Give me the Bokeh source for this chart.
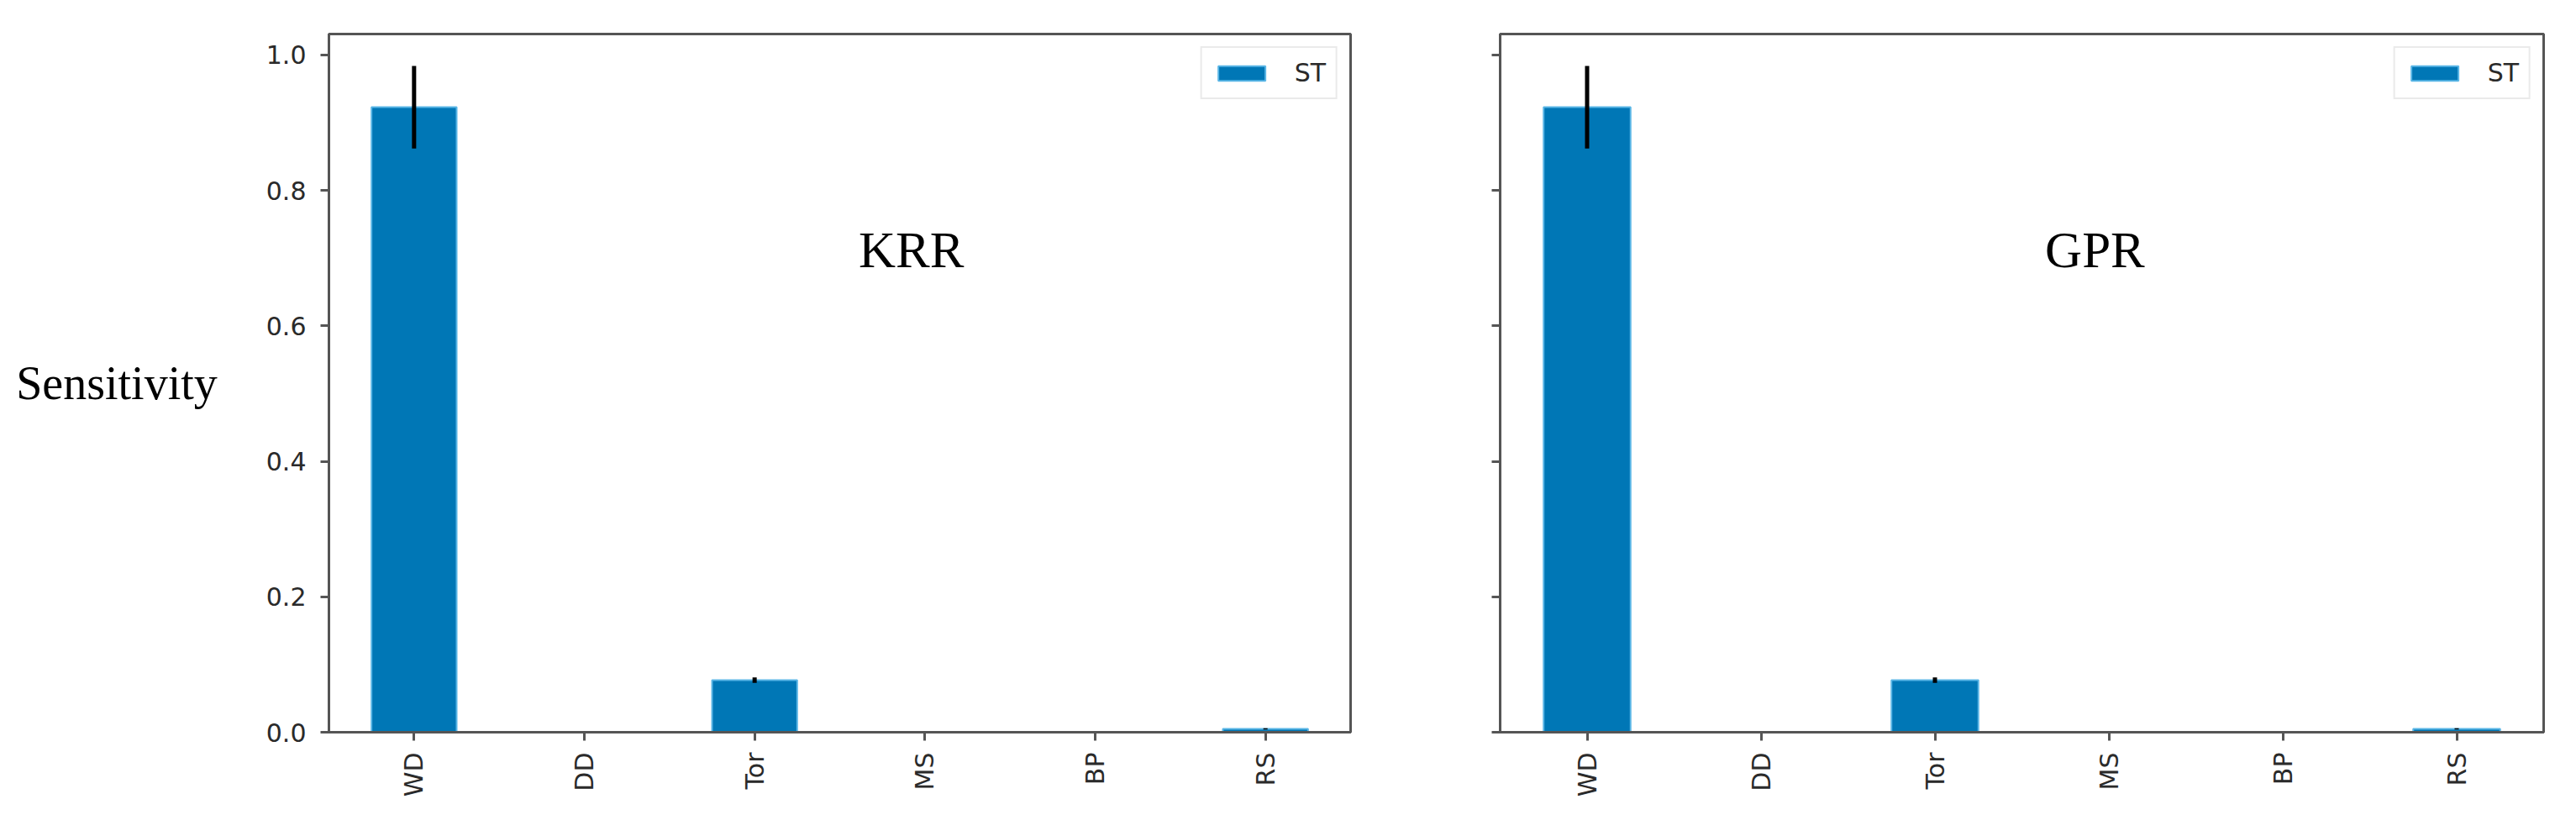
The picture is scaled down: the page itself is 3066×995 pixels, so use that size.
import math
from bokeh.plotting import figure
from bokeh.layouts import row
from bokeh.models import (Range1d, FixedTicker, PrintfTickFormatter, Label,
                          ColumnDataSource, CustomLabelingPolicy)
from bokeh.embed import file_html
from bokeh.resources import INLINE

# ---- data ----
categories = ["WD", "DD", "Tor", "MS", "BP", "RS"]
krr_st = [0.923, 0.0, 0.077, 0.0, 0.0, 0.005]
krr_conf = [0.061, 0.0, 0.004, 0.0, 0.0, 0.001]
gpr_st = [0.923, 0.0, 0.077, 0.0, 0.0, 0.005]
gpr_conf = [0.061, 0.0, 0.004, 0.0, 0.0, 0.001]
y_ticks = [0.0, 0.2, 0.4, 0.6, 0.8, 1.0]
y_max = 1.031
legend_label = "ST"
panel_titles = ["KRR", "GPR"]
y_title = "Sensitivity"

BAR = "#0077b6"
BAR_EDGE = "#5ab6e6"
SPINE = "#555555"
TXT = "#2a2a2a"


def make_panel(st, conf, title, first, frame_w, left_border, right_border):
    src = ColumnDataSource(dict(
        cat=categories, st=st,
        lo=[s - c for s, c in zip(st, conf)],
        hi=[s + c for s, c in zip(st, conf)],
    ))
    p = figure(x_range=categories, y_range=Range1d(0, y_max),
               frame_width=frame_w, frame_height=831,
               min_border_left=left_border, min_border_right=right_border,
               min_border_top=40, min_border_bottom=104,
               output_backend="svg", toolbar_location=None)
    p.vbar(x="cat", top="st", width=0.5, source=src, fill_color=BAR,
           line_color=BAR_EDGE, line_width=2, legend_label=legend_label)
    p.segment(x0="cat", y0="lo", x1="cat", y1="hi", source=src,
              line_color="black", line_width=5)

    p.xgrid.visible = False
    p.ygrid.visible = False
    p.outline_line_color = SPINE
    p.outline_line_width = 3
    p.outline_line_alpha = 1.0
    p.background_fill_color = "white"
    p.border_fill_color = "white"

    for ax in (p.xaxis[0], p.yaxis[0]):
        ax.axis_line_color = SPINE
        ax.axis_line_width = 3
        ax.major_tick_line_color = SPINE
        ax.major_tick_line_width = 3
        ax.major_tick_out = 10
        ax.major_tick_in = 0
        ax.minor_tick_out = 0
        ax.minor_tick_in = 0
        ax.major_label_text_font = "DejaVu Sans"
        ax.major_label_text_font_size = "30px"
        ax.major_label_text_color = TXT

    p.xaxis.major_label_orientation = math.pi / 2
    p.xaxis.major_label_standoff = 14

    p.yaxis.ticker = FixedTicker(ticks=y_ticks)
    p.yaxis.formatter = PrintfTickFormatter(format="%.1f")
    p.yaxis.major_label_standoff = 17
    if first:
        p.yaxis.axis_label = y_title
        p.yaxis.axis_label_orientation = "horizontal"
        p.yaxis.axis_label_text_font = "Liberation Serif"
        p.yaxis.axis_label_text_font_style = "normal"
        p.yaxis.axis_label_text_font_size = "56px"
        p.yaxis.axis_label_text_color = "black"
        p.yaxis.axis_label_standoff = 55
    else:
        # shared y axis: tick marks only, no tick labels drawn
        p.yaxis.major_label_policy = CustomLabelingPolicy(
            code="for (const i of Array.from(indices)) { indices.unset(i) }\nreturn indices")

    p.legend.location = "top_right"
    p.legend.margin = 15
    p.legend.padding = 12
    p.legend.glyph_width = 70
    p.legend.glyph_height = 22
    p.legend.label_standoff = 28
    p.legend.label_text_font = "DejaVu Sans"
    p.legend.label_text_font_size = "30px"
    p.legend.label_text_color = TXT
    p.legend.border_line_color = "#d6d6d6"
    p.legend.border_line_width = 2
    p.legend.background_fill_alpha = 1.0

    p.add_layout(Label(x=3.42, y=0.712, text=title, text_font="Liberation Serif",
                       text_font_size="61px", text_align="center",
                       text_baseline="alphabetic", text_color="black"))
    return p


p1 = make_panel(krr_st, krr_conf, panel_titles[0], True, 1216, 391, 93)
p2 = make_panel(gpr_st, gpr_conf, panel_titles[1], False, 1242, 85, 10)

layout = row(p1, p2)
open("out.html", "w").write(file_html(layout, INLINE))
